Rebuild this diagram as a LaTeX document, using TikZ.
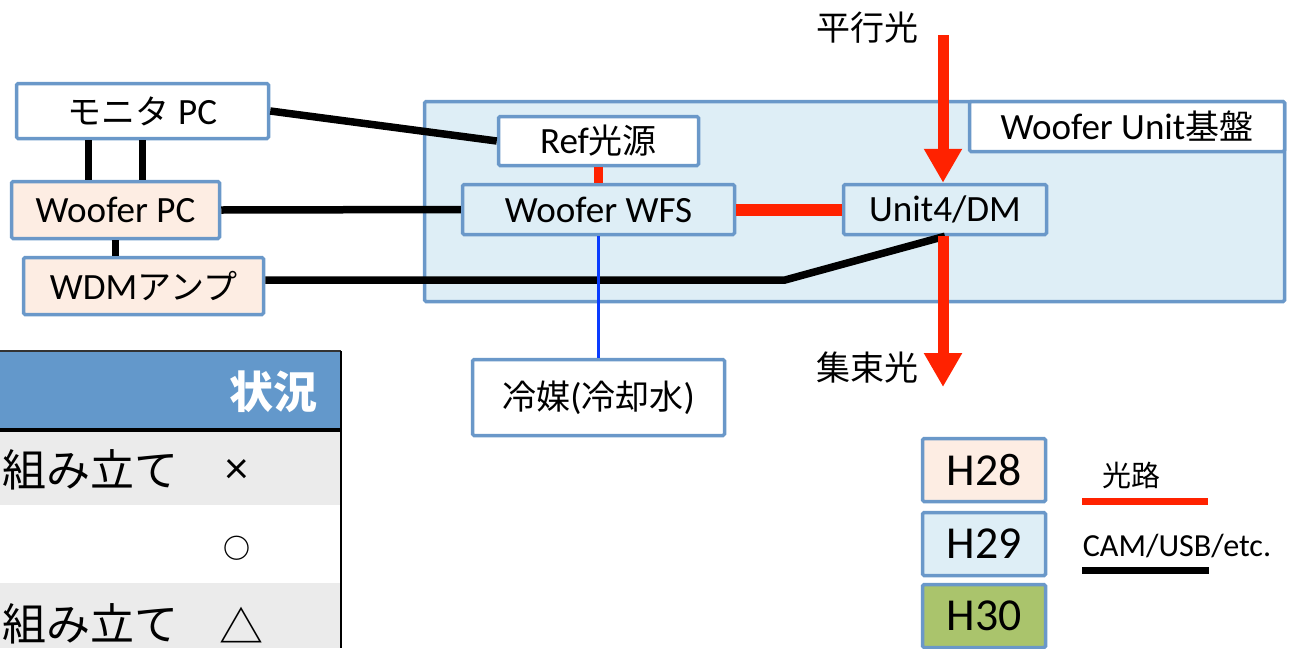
\documentclass[tikz,border=0pt]{standalone}
\usepackage{fontspec}
\setmainfont{Carlito}[Scale=1.09]
\newfontfamily\jp{Noto Sans CJK JP}
\usetikzlibrary{arrows.meta}
\definecolor{boxblue}{HTML}{6A98C9}
\definecolor{unitblue}{HTML}{DEEEF6}
\definecolor{peach}{HTML}{FDEDE3}
\definecolor{hgreen}{HTML}{AAC46C}
\definecolor{lightred}{HTML}{FF2200}
\definecolor{headblue}{HTML}{6398CB}
\definecolor{rowgrey}{HTML}{EBEBEB}
\definecolor{coolblue}{HTML}{0A3CFF}
\begin{document}
\begin{tikzpicture}[x=1pt,y=-1pt,
	box/.style={draw=boxblue, line width=3.5pt, rounded corners=1.5pt, font=\fontsize{34}{36}\selectfont},
	yearbox/.style={box, minimum width=123pt, minimum height=63pt, font=\fontsize{42}{44}\selectfont},
	cable/.style={line width=7.5pt},
	light/.style={draw=lightred, line width=11pt},
	beam/.style={light, -{Triangle[width=36pt,length=34pt]}},
	cell/.style={font=\jp\fontsize{44}{46}\selectfont},
	legend/.style={font=\fontsize{29.5}{31}\selectfont}]
			\tikzstyle{every node}+=[inner sep=0pt]
			\useasboundingbox (0,0) rectangle (1289,648);
			\clip (0,0) rectangle (1289,648);
			% table
			\fill [headblue] (0,351) rectangle (341,429);
			\fill [rowgrey] (0,431) rectangle (341,505);
			\fill [rowgrey] (0,583) rectangle (341,648);
			\draw [black!80, line width=1.2pt] (0,351) -- (341,351);
			\draw [line width=3.5pt] (0,430) -- (341,430);
			\draw [line width=2pt] (341,351) -- (341,648);
			\node [cell, text=white] (state) at (273,392) {\bfseries 状況};
			\node [cell, anchor=west] (rowa) at (2,470) {組み立て};
			\node [font=\fontsize{42}{44}\selectfont] (marka) at (237,471) {×};
			\node [font=\jp\bfseries\fontsize{27}{30}\selectfont] (markb) at (237,548) {○};
			\node [cell] (rowc) at (2,624) [anchor=west] {組み立て};
			\node [cell] (markc) at (241,625) {△};
			% boxes
			\node [box, fill=unitblue, minimum width=860pt, minimum height=200pt] (base) at (854.5,201.5) {};
			\node [box, fill=white, minimum width=315pt, minimum height=50pt] (baselabel) at (1127,126.5) {Woofer Unit{\jp 基盤}};
			\node [box, fill=white, minimum width=252pt, minimum height=55pt] (monpc) at (142.5,111) {{\jp モニタ} PC};
			\node [box, fill=peach, minimum width=208pt, minimum height=57pt] (wpc) at (115.5,210) {Woofer PC};
			\node [box, fill=peach, minimum width=240pt, minimum height=57pt] (wdm) at (143.5,286) {WDM{\jp アンプ}};
			\node [box, fill=white, minimum width=200pt, minimum height=49pt] (ref) at (598.5,141) {Ref{\jp 光源}};
			\node [box, fill=unitblue, minimum width=272pt, minimum height=50pt] (wfs) at (598.5,209.5) {Woofer WFS};
			\node [box, fill=unitblue, minimum width=203pt, minimum height=50pt] (dm) at (945,209.5) {Unit4/DM};
			\node [box, fill=white, minimum width=252pt, minimum height=76pt] (cool) at (598.5,397.5) {{\jp 冷媒}({\jp 冷却水})};
			\node [yearbox, fill=peach] (h28) at (984,470) {H28};
			\node [yearbox, fill=unitblue] (h29) at (984,544) {H29};
			\node [yearbox, fill=hgreen] (h30) at (984,616) {H30};
			% connectors
			\coordinate (bend) at (785,280);
			\draw [cable] (monpc.east) -- (ref.west);
			\draw [cable] ([xshift=-54pt]monpc.south) -- ([xshift=-54pt]monpc.south |- wpc.north);
			\draw [cable] (monpc.south) -- (monpc.south |- wpc.north);
			\draw [cable] (wpc.east) -- (wfs.west);
			\draw [cable] (wpc.south) -- (wpc.south |- wdm.north);
			\draw [cable] ([yshift=6pt]wdm.east) -- (bend) -- (dm.south);
			\draw [coolblue, line width=2.5pt] (wfs.south) -- (cool.north);
			\draw [light, line width=9pt] (ref.south) -- (wfs.north);
			\draw [light, line width=12pt] (wfs.east) -- (dm.west);
			\coordinate (parallel) at (943,35);
			\coordinate (focus) at (943,387);
			\draw [beam] (parallel) -- ([xshift=-2pt]dm.north);
			\draw [beam] ([xshift=-2pt]dm.south) -- (focus);
			\node [font=\jp\fontsize{34}{36}\selectfont] (inlight) at (867,28) {平行光};
			\node [font=\jp\fontsize{34}{36}\selectfont] (outlight) at (867,368) {集束光};
			% legend
			\coordinate (reda) at (1082,501);
			\coordinate (redb) at (1208,501);
			\coordinate (blacka) at (1082,570);
			\coordinate (blackb) at (1209,570);
			\draw [lightred, line width=7pt] (reda) -- (redb);
			\draw [line width=7pt] (blacka) -- (blackb);
			\node [font=\jp\fontsize{29}{31}\selectfont] (keylight) at (1131,475) {光路};
			\node [legend] (keycable) at (1177,546) {CAM/USB/etc.};
\end{tikzpicture}
\end{document}
